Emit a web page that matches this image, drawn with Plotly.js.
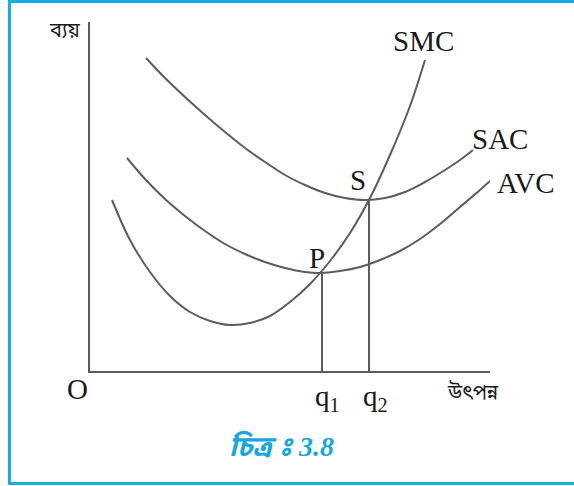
<!DOCTYPE html>
<html>
<head>
<meta charset="utf-8">
<script src="https://cdn.plot.ly/plotly-3.0.1.min.js"></script>
<style>
  html, body { margin: 0; padding: 0; background: #ffffff; }
  #chart { width: 574px; height: 486px; }
</style>
</head>
<body>
<div id="chart"></div>
<script>
// Output (x) and cost (y) values, origin at O
const smcX = [22, 40, 60, 80, 100, 120, 140, 160, 180, 200, 220, 240, 260, 280, 300, 320, 335];
const smcY = [171, 131, 99, 75, 59, 50, 46, 48, 55, 69, 87, 110, 138, 173, 216, 265, 311];

const sacX = [56, 75, 95, 115, 135, 155, 175, 195, 215, 235, 255, 275, 295, 315, 335, 355, 370, 383];
const sacY = [313, 293, 274, 256, 239, 223, 209, 196, 186, 178, 173, 171, 173, 179, 189, 201, 211, 221];

const avcX = [37, 55, 75, 95, 115, 135, 155, 175, 195, 215, 230, 250, 270, 290, 310, 330, 350, 370, 390, 400];
const avcY = [213, 192, 172, 155, 140, 127, 117, 109, 103, 99, 98, 100, 104, 111, 120, 132, 147, 164, 181, 190];

// q1 (point P, min of AVC) and q2 (point S, min of SAC)
const qX = [232, 279];
const qY = [99, 172];

const curveNames = ["SMC", "SAC", "AVC"];
const pointNames = ["P", "S"];
const qLabels = ["q<sub>1</sub>", "q<sub>2</sub>"];
const yTitle = "ব্যয়";
const xTitle = "উৎপন্ন";
const originLabel = "O";
const captionWord = "চিত্র\u00A0ঃ";
const captionNum = "3.8";

const W = 574, H = 486;
const px = (x, y) => ({ x: x / W, y: 1 - y / H });

const lineStyle = { color: "#5c5c5c", width: 2, shape: "spline", smoothing: 1 };
const dropStyle = { color: "#5c5c5c", width: 2 };

const traces = [
  { x: smcX, y: smcY, mode: "lines", line: lineStyle, name: curveNames[0], hoverinfo: "skip" },
  { x: sacX, y: sacY, mode: "lines", line: lineStyle, name: curveNames[1], hoverinfo: "skip" },
  { x: avcX, y: avcY, mode: "lines", line: lineStyle, name: curveNames[2], hoverinfo: "skip" },
  { x: [qX[0], qX[0]], y: [0, qY[0]], mode: "lines", line: dropStyle, hoverinfo: "skip" },
  { x: [qX[1], qX[1]], y: [0, qY[1]], mode: "lines", line: dropStyle, hoverinfo: "skip" }
];

const serif = "Liberation Serif, Times New Roman, serif";
const beng = "Noto Sans Bengali, Noto Serif Bengali, Lohit Bengali, FreeSerif, sans-serif";
const txt = "#1a1a1a";

function lab(text, p, size, family, color) {
  const pos = px(p[0], p[1]);
  return {
    text: text, xref: "paper", yref: "paper", x: pos.x, y: pos.y,
    xanchor: "center", yanchor: "middle", showarrow: false,
    font: { family: family, size: size, color: color || txt }
  };
}

const capText = "<b><i>" + captionWord + " <span style=\"font-family:Liberation Serif, serif\">" +
                captionNum + "</span></i></b>";

const annotations = [
  lab(yTitle, [64, 32], 20, beng),
  lab(curveNames[0], [423, 41], 29, serif),
  lab(curveNames[1], [500, 139], 29, serif),
  lab(curveNames[2], [526, 183], 29, serif),
  lab(pointNames[1], [358, 180], 29, serif),
  lab(pointNames[0], [317, 258], 29, serif),
  lab(originLabel, [77, 389], 29, serif),
  lab(qLabels[0], [327, 398], 29, serif),
  lab(qLabels[1], [376, 398], 29, serif),
  lab(xTitle, [473, 393], 20, beng),
  lab(capText, [281, 448], 28, beng, "#1aa7e0")
];

const layout = {
  width: W, height: H,
  margin: { l: 0, r: 0, t: 0, b: 0 },
  paper_bgcolor: "#ffffff", plot_bgcolor: "rgba(0,0,0,0)",
  showlegend: false,
  xaxis: {
    domain: [90 / W, 490 / W], range: [0, 400],
    showline: true, linecolor: "#5c5c5c", linewidth: 2,
    showgrid: false, zeroline: false, showticklabels: false, ticks: "", fixedrange: true
  },
  yaxis: {
    domain: [1 - 371 / H, 1 - 22 / H], range: [0, 349],
    showline: true, linecolor: "#5c5c5c", linewidth: 2,
    showgrid: false, zeroline: false, showticklabels: false, ticks: "", fixedrange: true
  },
  annotations: annotations,
  shapes: [
    { type: "path", xref: "paper", yref: "paper",
      path: "M 1.02 " + (1 - 1.5 / H) + " L " + (9.5 / W) + " " + (1 - 1.5 / H) +
            " L " + (9.5 / W) + " " + (1 - 483.5 / H) + " L 1.02 " + (1 - 483.5 / H),
      line: { color: "#16ade6", width: 3 } }
  ]
};

Plotly.newPlot("chart", traces, layout, { staticPlot: true, displayModeBar: false });
</script>
</body>
</html>
